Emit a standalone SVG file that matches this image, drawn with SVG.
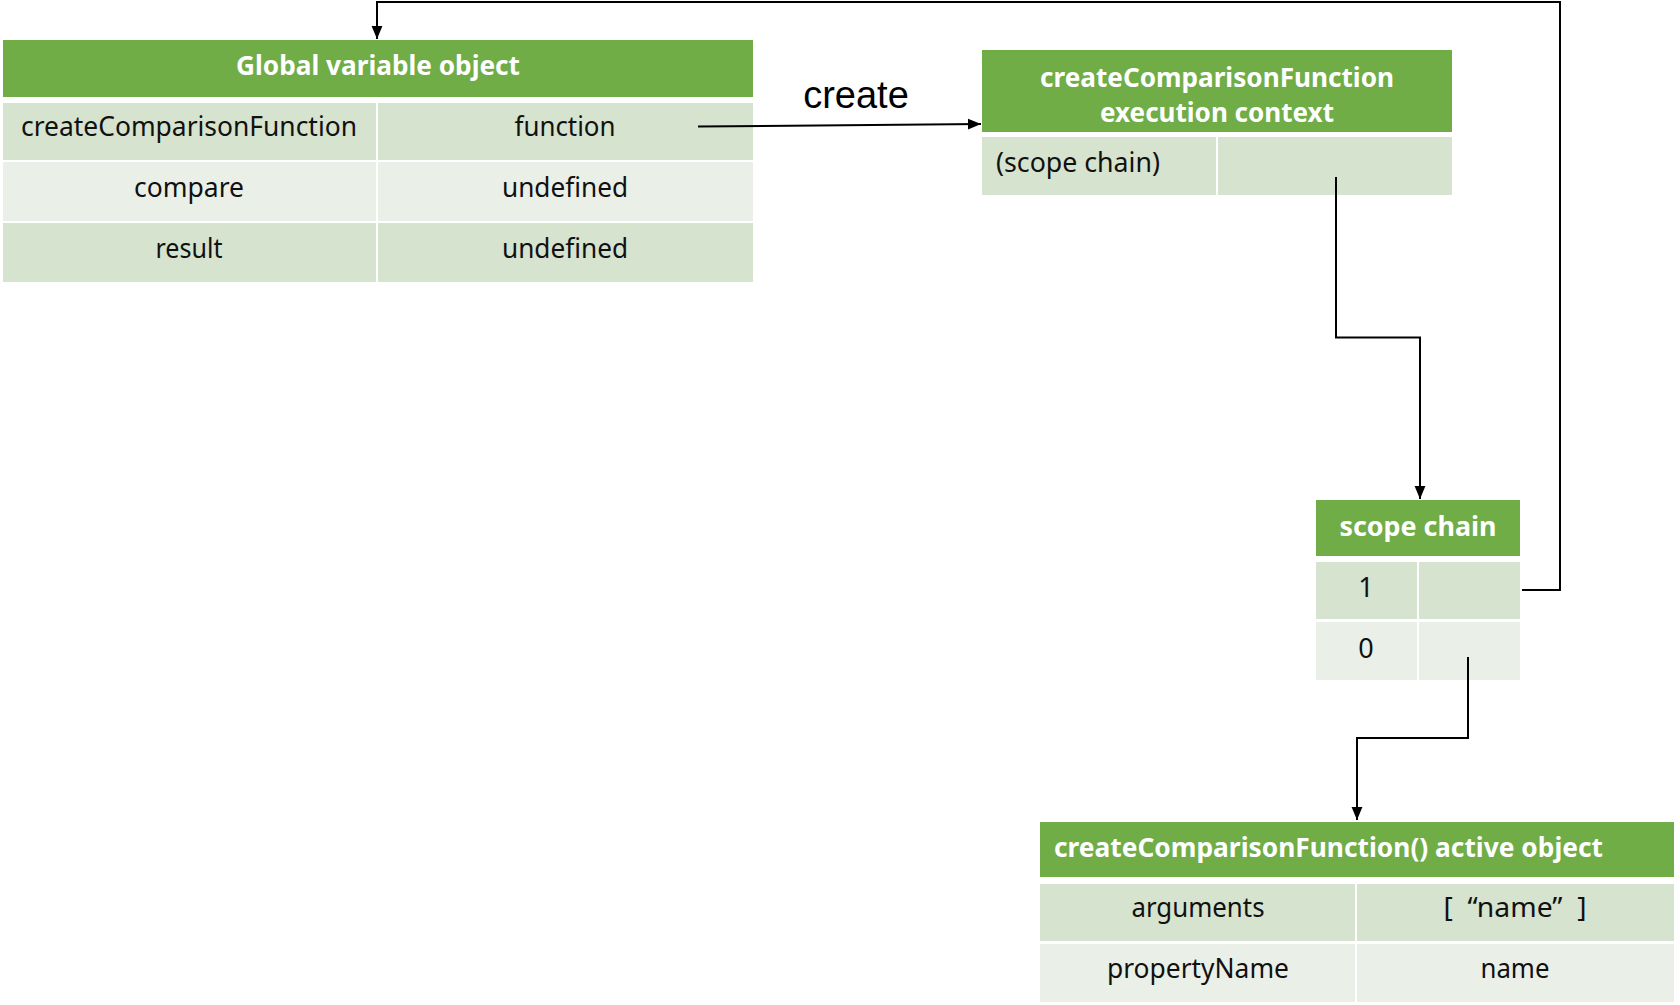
<svg xmlns="http://www.w3.org/2000/svg" width="1680" height="1005" viewBox="0 0 1680 1005">
  <style>
    .hdr { fill: #70AD47; }
    .band1 { fill: #D6E3CF; }
    .band2 { fill: #EAF0E7; }
    .ht { font-family: "Noto Sans", "Liberation Sans", sans-serif; font-size: 27px; font-weight: bold; fill: #FFFFFF; dominant-baseline: central; }
    .ct { font-family: "Noto Sans", "Liberation Sans", sans-serif; font-size: 27px; fill: #111111; dominant-baseline: central; }
    .mid { text-anchor: middle; }
    .lbl { font-family: "Liberation Sans", Arial, sans-serif; font-size: 38px; fill: #000000; dominant-baseline: central; text-anchor: middle; }
    .wire { fill: none; stroke: #000000; stroke-width: 2; }
  </style>
  <defs>
    <marker id="arrow" viewBox="0 0 12 12" refX="12" refY="6" markerWidth="13" markerHeight="13" markerUnits="userSpaceOnUse" orient="auto">
      <path d="M0,1 L12,6 L0,11 Z" fill="#000000"/>
    </marker>
  </defs>

  <rect width="1680" height="1005" fill="#FFFFFF"/>

  <!-- Global variable object -->
  <g id="global-variable-object">
    <rect class="hdr" x="3" y="40" width="750" height="57"/>
    <text class="ht mid" x="378" y="64" textLength="284" lengthAdjust="spacingAndGlyphs">Global variable object</text>
    <rect class="band1" x="3" y="103" width="373" height="57"/>
    <rect class="band1" x="378" y="103" width="375" height="57"/>
    <rect class="band2" x="3" y="162" width="373" height="59"/>
    <rect class="band2" x="378" y="162" width="375" height="59"/>
    <rect class="band1" x="3" y="223" width="373" height="59"/>
    <rect class="band1" x="378" y="223" width="375" height="59"/>
    <text class="ct mid" x="189" y="125" textLength="336" lengthAdjust="spacingAndGlyphs">createComparisonFunction</text>
    <text class="ct mid" x="565" y="125" textLength="101" lengthAdjust="spacingAndGlyphs">function</text>
    <text class="ct mid" x="189" y="186" textLength="110" lengthAdjust="spacingAndGlyphs">compare</text>
    <text class="ct mid" x="565" y="186" textLength="126" lengthAdjust="spacingAndGlyphs">undefined</text>
    <text class="ct mid" x="189" y="247" textLength="67" lengthAdjust="spacingAndGlyphs">result</text>
    <text class="ct mid" x="565" y="247" textLength="126" lengthAdjust="spacingAndGlyphs">undefined</text>
  </g>

  <!-- createComparisonFunction execution context -->
  <g id="execution-context">
    <rect class="hdr" x="982" y="50" width="470" height="82"/>
    <text class="ht mid" x="1217" y="76" textLength="354" lengthAdjust="spacingAndGlyphs">createComparisonFunction</text>
    <text class="ht mid" x="1217" y="111" textLength="234" lengthAdjust="spacingAndGlyphs">execution context</text>
    <rect class="band1" x="982" y="137" width="234" height="58"/>
    <rect class="band1" x="1218" y="137" width="234" height="58"/>
    <text class="ct" x="996" y="161" textLength="164" lengthAdjust="spacingAndGlyphs">(scope chain)</text>
  </g>

  <!-- scope chain -->
  <g id="scope-chain">
    <rect class="hdr" x="1316" y="500" width="204" height="56"/>
    <text class="ht mid" x="1418" y="525" textLength="157" lengthAdjust="spacingAndGlyphs">scope chain</text>
    <rect class="band1" x="1316" y="562" width="101" height="57"/>
    <rect class="band1" x="1419" y="562" width="101" height="57"/>
    <rect class="band2" x="1316" y="622" width="101" height="58"/>
    <rect class="band2" x="1419" y="622" width="101" height="58"/>
    <text class="ct mid" x="1366" y="586">1</text>
    <text class="ct mid" x="1366" y="647">0</text>
  </g>

  <!-- createComparisonFunction() active object -->
  <g id="active-object">
    <rect class="hdr" x="1040" y="822" width="634" height="55"/>
    <text class="ht" x="1054" y="846" textLength="549" lengthAdjust="spacingAndGlyphs">createComparisonFunction() active object</text>
    <rect class="band1" x="1040" y="884" width="315" height="57"/>
    <rect class="band1" x="1357" y="884" width="317" height="57"/>
    <rect class="band2" x="1040" y="944" width="315" height="58"/>
    <rect class="band2" x="1357" y="944" width="317" height="58"/>
    <text class="ct mid" x="1198" y="906" textLength="133" lengthAdjust="spacingAndGlyphs">arguments</text>
    <text class="ct mid" x="1515" y="906" textLength="143" lengthAdjust="spacingAndGlyphs">[&#160; “name”&#160; ]</text>
    <text class="ct mid" x="1198" y="967" textLength="182" lengthAdjust="spacingAndGlyphs">propertyName</text>
    <text class="ct mid" x="1515" y="967" textLength="69" lengthAdjust="spacingAndGlyphs">name</text>
  </g>

  <!-- connectors -->
  <g id="connectors">
    <path class="wire" d="M698,126.5 L981,124" marker-end="url(#arrow)"/>
    <text class="lbl" x="856" y="95">create</text>
    <path class="wire" d="M1336,177 V337.5 H1420 V499" marker-end="url(#arrow)"/>
    <path class="wire" d="M1522,590 H1560 V2 H377 V39" marker-end="url(#arrow)"/>
    <path class="wire" d="M1468,657 V738 H1357 V820" marker-end="url(#arrow)"/>
  </g>
</svg>
